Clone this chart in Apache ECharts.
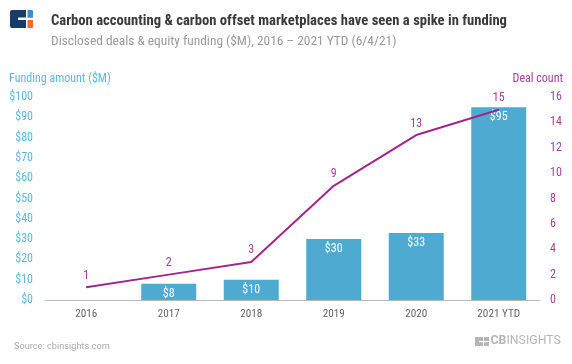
<!DOCTYPE html>
<html><head><meta charset="utf-8">
<script src="https://cdn.jsdelivr.net/npm/echarts@6/dist/echarts.min.js"></script>
<style>html,body{margin:0;padding:0;background:#fff}#c{width:572px;height:364px}</style>
</head><body><div id="c"></div>
<script>
var categories = ['2016','2017','2018','2019','2020','2021 YTD'];
var funding = [0, 8, 10, 30, 33, 95];
var deals = [1, 2, 3, 9, 13, 15];
var leftTicks = [0,10,20,30,40,50,60,70,80,90,100];
var rightTicks = [0,2,4,6,8,10,12,14,16];

var FONT = '"Roboto Condensed", "Roboto", sans-serif';
var BLUE = '#4eaad0', PURPLE = '#a0268c', LBLUE = '#5cb8dd', LPURP = '#a8409a';
var chart = echarts.init(document.getElementById('c'), null, {renderer:'canvas'});
chart.setOption({
  animation:false,
  textStyle:{fontFamily:FONT},
  title:[
    {text:'Carbon accounting & carbon offset marketplaces have seen a spike in funding', left:46, top:9,
     textStyle:{fontFamily:FONT, fontWeight:'bold', fontSize:14.65, color:'#3a3a3a'}},
    {text:'Disclosed deals & equity funding ($M), 2016 \u2013 2021 YTD (6/4/21)', left:46, top:30,
     textStyle:{fontFamily:FONT, fontWeight:'normal', fontSize:13.4, color:'#9a9a9a'}},
    {text:'Source: cbinsights.com', left:9, top:337,
     textStyle:{fontFamily:'Roboto', fontWeight:'normal', fontSize:9.2, color:'#aaaaaa'}}
  ],
  graphic:[
    {type:'rect', shape:{x:10,y:10,width:23,height:18,r:2}, style:{fill:'#173c6c'}},
    {type:'rect', shape:{x:27,y:10,width:6,height:7,r:[0,2,0,0]}, style:{fill:'#3b8fc9'}},
    {type:'rect', shape:{x:27,y:20,width:6,height:8,r:[0,0,2,0]}, style:{fill:'#f26b2d'}},
    {type:'rect', shape:{x:26,y:10,width:1.5,height:18}, style:{fill:'#fff'}},
    {type:'rect', shape:{x:18,y:17.5,width:15,height:2.5}, style:{fill:'#fff'}},
    {type:'rect', shape:{x:475,y:337,width:14,height:9}, style:{fill:'#b5b5b5'}},
    {type:'rect', shape:{x:483,y:337,width:1,height:9}, style:{fill:'#fff'}},
    {type:'rect', shape:{x:479,y:341,width:10,height:1.2}, style:{fill:'#fff'}},
    {type:'text', left:490.5, top:335, style:{text:'CB', font:'bold 12.3px Roboto', fill:'#b5b5b5'}},
    {type:'text', left:506.5, top:335, style:{text:'INSIGHTS', font:'12.3px Roboto', fill:'#b5b5b5'}}
  ],
  grid:{left:45, right:32, top:97, bottom:64},
  xAxis:{type:'category', data:categories,
    axisLine:{lineStyle:{color:'#b8b8b8', width:1}}, axisTick:{show:false},
    axisLabel:{color:'#666', fontSize:11.2, margin:9, fontFamily:FONT}},
  yAxis:[
    {type:'value', min:0, max:100, interval:10, name:'Funding amount ($M)', nameLocation:'end',
     nameGap:12, nameTextStyle:{color:LBLUE, fontSize:12, align:'left', padding:[0,0,0,-36], fontFamily:FONT},
     axisLine:{show:false}, axisTick:{show:false}, splitLine:{show:false},
     axisLabel:{color:LBLUE, fontSize:12, margin:12, fontFamily:FONT, formatter:function(v){return '$'+v;}}},
    {type:'value', min:0, max:16, interval:2, name:'Deal count', nameLocation:'end',
     nameGap:12, nameTextStyle:{color:LPURP, fontSize:12, align:'right', padding:[0,-23,0,0], fontFamily:FONT},
     axisLine:{show:false}, axisTick:{show:false}, splitLine:{show:false},
     axisLabel:{color:LPURP, fontSize:12, margin:10, fontFamily:FONT}}
  ],
  series:[
    {type:'bar', data:funding, yAxisIndex:0, barWidth:55,
     itemStyle:{color:BLUE, borderWidth:0},
     label:{show:true, position:'insideTop', distance:4, color:'#fff', fontSize:12, fontFamily:FONT,
       formatter:function(p){return p.value>=1 ? '$'+p.value : '';}}},
    {type:'line', data:deals, yAxisIndex:1, symbol:'circle', showSymbol:true, symbolSize:1,
     itemStyle:{color:PURPLE}, lineStyle:{color:PURPLE, width:2},
     label:{show:true, position:'top', distance:5, color:LPURP, fontSize:12, fontFamily:FONT}}
  ]
});
</script></body></html>
